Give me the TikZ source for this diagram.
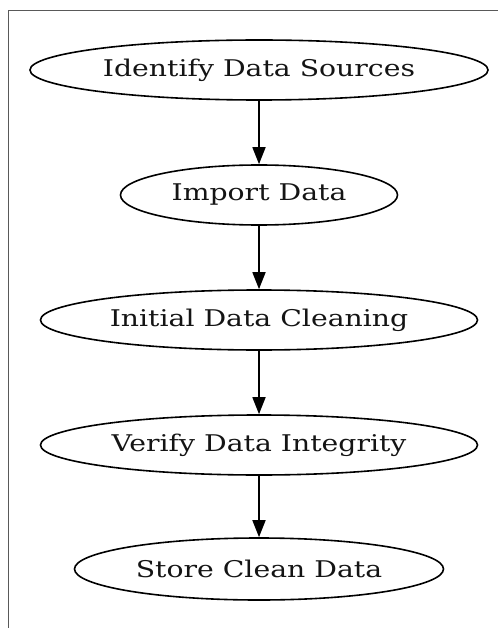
\documentclass[tikz,border=0pt]{standalone}
\usepackage{fontspec}
\setmainfont[FakeStretch=1.23]{DejaVu Serif}
\usetikzlibrary{shapes.geometric,arrows.meta}
\begin{document}
\begin{tikzpicture}[x=1pt,y=-1pt,
  stage/.style={ellipse,draw,line width=1.6pt,inner sep=0pt,font=\fontsize{23}{26}\selectfont,text=black!92},
  flow/.style={line width=1.6pt,-{Triangle[length=17pt,width=13pt]}}]
\useasboundingbox (0,0) rectangle (498,628);
\draw[line width=1pt,black!65] (8.7,628) -- (8.7,11) -- (498,11);
\node[stage,minimum width=458pt,minimum height=60pt] (a) at (259,70) {Identify Data Sources};
\node[stage,minimum width=277pt,minimum height=60pt] (b) at (259,195) {Import Data};
\node[stage,minimum width=437pt,minimum height=60pt] (c) at (259,320) {Initial Data Cleaning};
\node[stage,minimum width=437pt,minimum height=60pt] (d) at (259,445) {Verify Data Integrity};
\node[stage,minimum width=369pt,minimum height=62pt] (e) at (259,569) {Store Clean Data};
\draw[flow] (a) -- (b);
\draw[flow] (b) -- (c);
\draw[flow] (c) -- (d);
\draw[flow] (d) -- (e);
\end{tikzpicture}
\end{document}
